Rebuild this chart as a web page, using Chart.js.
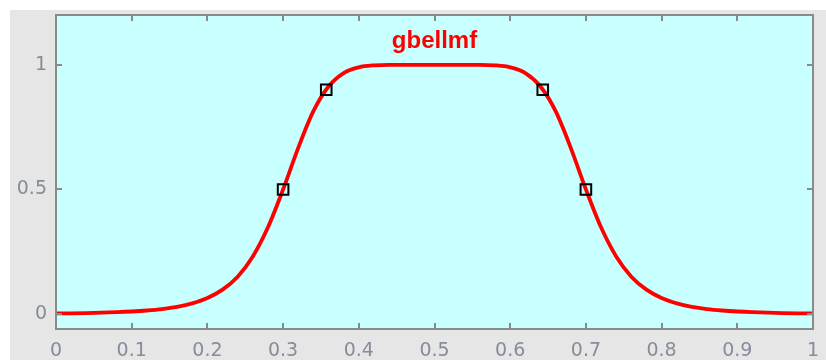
<!DOCTYPE html>
<html>
<head>
<meta charset="utf-8">
<title>gbellmf</title>
<script src="https://cdn.jsdelivr.net/npm/chart.js@4"></script>
<style>
  html, body { margin: 0; padding: 0; background: #ffffff; }
  canvas { display: block; }
</style>
</head>
<body>
<canvas id="mfChart" width="826" height="360"></canvas>
<script>
// membership curve
const xValues = [
  0.00, 0.02, 0.04, 0.06, 0.08, 0.10, 0.12, 0.14, 0.16, 0.18,
  0.20, 0.22, 0.24, 0.26, 0.28, 0.30, 0.32, 0.34, 0.36, 0.38,
  0.40, 0.42, 0.44, 0.46, 0.48, 0.50, 0.52, 0.54, 0.56, 0.58,
  0.60, 0.62, 0.64, 0.66, 0.68, 0.70, 0.72, 0.74, 0.76, 0.78,
  0.80, 0.82, 0.84, 0.86, 0.88, 0.90, 0.92, 0.94, 0.96, 0.98, 1.00
];
const muValues = [
  0.0024, 0.0031, 0.0041, 0.0055, 0.0074, 0.0102, 0.0143, 0.0202, 0.0292, 0.0431,
  0.0644, 0.0979, 0.150, 0.231, 0.348, 0.500, 0.667, 0.814, 0.913, 0.967,
  0.990, 0.998, 1.000, 1.000, 1.000, 1.000, 1.000, 1.000, 1.000, 0.998,
  0.990, 0.967, 0.913, 0.814, 0.667, 0.500, 0.348, 0.231, 0.150, 0.0979,
  0.0644, 0.0431, 0.0292, 0.0202, 0.0143, 0.0102, 0.0074, 0.0055, 0.0041, 0.0031, 0.0024
];

// square handles on the curve
const markerX = [0.300, 0.357, 0.643, 0.700];
const markerY = [0.50, 0.90, 0.90, 0.50];

const xTicks = [0, 0.1, 0.2, 0.3, 0.4, 0.5, 0.6, 0.7, 0.8, 0.9, 1];
const yTicks = [0, 0.5, 1];

const titleText = 'gbellmf';

const frameColor = '#8a8a8a';
const labelColor = '#858c9a';

const framePlugin = {
  id: 'frame',
  beforeDraw(chart) {
    const { ctx, chartArea: a, width, height } = chart;
    ctx.save();
    ctx.fillStyle = '#ffffff';
    ctx.fillRect(0, 0, width, height);
    ctx.fillStyle = '#e6e6e6';
    ctx.fillRect(10, 10, width - 10, height - 10);
    ctx.fillStyle = '#c8ffff';
    ctx.fillRect(a.left, a.top, a.right - a.left, a.bottom - a.top);
    ctx.restore();
  },
  afterDraw(chart) {
    const { ctx, chartArea: a, scales } = chart;
    ctx.save();
    ctx.strokeStyle = frameColor;
    ctx.lineWidth = 2;
    ctx.beginPath();
    // inward tick marks
    xTicks.forEach(v => {
      const px = Math.round(scales.x.getPixelForValue(v));
      ctx.moveTo(px, a.bottom);
      ctx.lineTo(px, a.bottom - 6);
      ctx.moveTo(px, a.top);
      ctx.lineTo(px, a.top + 6);
    });
    yTicks.forEach(v => {
      const py = Math.round(scales.y.getPixelForValue(v));
      ctx.moveTo(a.left, py);
      ctx.lineTo(a.left + 6, py);
      ctx.moveTo(a.right, py);
      ctx.lineTo(a.right - 6, py);
    });
    ctx.stroke();
    ctx.strokeRect(a.left, a.top, a.right - a.left, a.bottom - a.top);

    ctx.fillStyle = '#ff0000';
    ctx.font = 'bold 24px "Liberation Sans", Arial, sans-serif';
    ctx.textAlign = 'center';
    ctx.textBaseline = 'alphabetic';
    ctx.fillText(titleText, (a.left + a.right) / 2, 48);
    ctx.restore();
  }
};

Chart.defaults.font.family = '"DejaVu Sans", sans-serif';
Chart.defaults.font.size = 19;
Chart.defaults.color = labelColor;

const ctx = document.getElementById('mfChart').getContext('2d');
new Chart(ctx, {
  type: 'line',
  data: {
    datasets: [
      {
        label: 'handles',
        data: markerX.map((x, i) => ({ x: x, y: markerY[i] })),
        showLine: false,
        pointStyle: 'rect',
        pointRadius: 7.5,
        pointBorderWidth: 2,
        pointBorderColor: '#000000',
        pointBackgroundColor: 'rgba(0,0,0,0)'
      },
      {
        label: titleText,
        data: xValues.map((x, i) => ({ x: x, y: muValues[i] })),
        borderColor: '#ff0000',
        borderWidth: 3.8,
        pointRadius: 0,
        cubicInterpolationMode: 'monotone'
      }
    ]
  },
  options: {
    responsive: false,
    animation: false,
    events: [],
    layout: { padding: { top: 15, right: 13, left: 0, bottom: 0 } },
    plugins: {
      legend: { display: false },
      tooltip: { enabled: false }
    },
    scales: {
      x: {
        type: 'linear',
        min: 0,
        max: 1,
        grid: { display: false, drawTicks: false },
        border: { display: false },
        afterBuildTicks: scale => { scale.ticks = xTicks.map(v => ({ value: v })); },
        afterFit: scale => {
          scale.height = 31;
          scale.paddingLeft = 0;
          scale.paddingRight = 0;
        },
        ticks: {
          padding: 11,
          maxRotation: 0,
          callback: v => String(Math.round(v * 10) / 10)
        }
      },
      y: {
        min: -0.06,
        max: 1.2,
        grid: { display: false, drawTicks: false },
        border: { display: false },
        afterBuildTicks: scale => { scale.ticks = yTicks.map(v => ({ value: v })); },
        afterFit: scale => {
          scale.width = 56;
          scale.paddingTop = 0;
          scale.paddingBottom = 0;
        },
        ticks: {
          padding: 9,
          callback: v => String(v)
        }
      }
    }
  },
  plugins: [framePlugin]
});
</script>
</body>
</html>
